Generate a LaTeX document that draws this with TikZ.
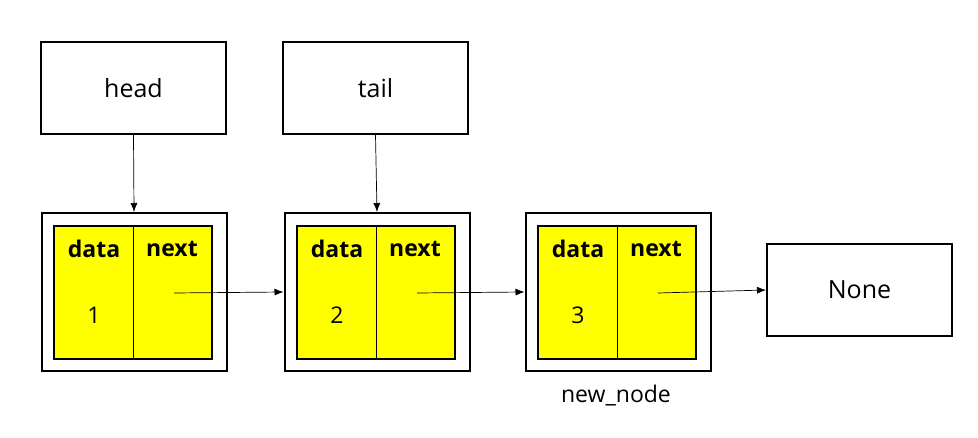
\documentclass[tikz,border=0pt]{standalone}
\usepackage{fontspec}
\setmainfont{Open Sans}
\usetikzlibrary{arrows.meta}
\definecolor{fillyellow}{RGB}{255,255,0}
\begin{document}
\begin{tikzpicture}[x=1pt,y=-1pt,
  box/.style={draw=black, line width=2pt, fill=white, minimum width=185pt, minimum height=92pt, inner sep=0pt, font=\fontsize{25}{28}\selectfont},
  outerbox/.style={draw=black, line width=2pt, fill=white, minimum width=185pt, minimum height=158pt, inner sep=0pt},
  innerbox/.style={draw=black, line width=2.4pt, fill=fillyellow, minimum width=158pt, minimum height=133pt, inner sep=0pt},
  lbl/.style={font=\fontsize{23}{26}\selectfont\bfseries, inner sep=0pt},
  num/.style={font=\fontsize{23}{26}\selectfont, inner sep=0pt},
  link/.style={line width=0.7pt, -{Latex[length=9pt,width=7pt]}}
]
\useasboundingbox (0,0) rectangle (978,438);
\node[box] (head) at (133.5,88) {head};
\node[box] (tail) at (375.5,88) {tail};
\node[box, minimum height=92pt] (none) at (859.5,290) {None};
\foreach \i/\c/\v in {1/133/1, 2/376/2, 3/617/3}{
  \node[outerbox] (out\i) at (\c+1,292) {};
  \node[innerbox] (in\i) at (\c,292.5) {};
  \draw[line width=0.8pt] (in\i.north) -- (in\i.south);
  \node[lbl] (data\i) at (\c-39,249) {data};
  \node[lbl] (next\i) at (\c+39,249) {next};
  \node[num] (val\i) at (\c-39,315) {\v};
  \coordinate (ptr\i) at (\c+41,293);
}
\node[num] (newnode) at (616,396) {new\_node};
\draw[link] (head.south) -- (out1.north);
\draw[link] (tail.south) -- (out2.north);
\draw[link] (ptr1) -- (out2.west);
\draw[link] (ptr2) -- (out3.west);
\draw[link] (ptr3) -- (none.west);
\end{tikzpicture}
\end{document}
